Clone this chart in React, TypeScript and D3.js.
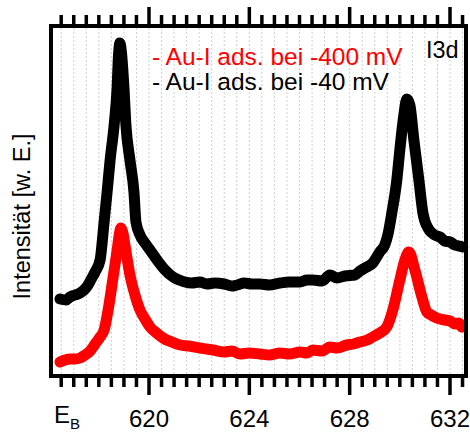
import React from "react";
import * as d3 from "d3";

// Binding energy (eV) and intensity (arb. units)
const blackEnergy = [616.45, 616.7, 616.85, 617.05, 617.25, 617.45, 617.57, 617.7, 617.85, 618.05, 618.21, 618.33, 618.45, 618.61, 618.73, 618.78, 618.84, 618.9, 619.0, 619.08, 619.24, 619.4, 619.48, 619.64, 619.84, 620.04, 620.32, 620.64, 620.96, 621.2, 621.43, 621.7, 622.03, 622.3, 622.63, 623.0, 623.3, 623.51, 623.8, 624.1, 624.42, 624.8, 625.22, 625.6, 626.02, 626.3, 626.53, 626.9, 627.21, 627.5, 627.81, 628.21, 628.41, 628.61, 628.92, 629.2, 629.4, 629.52, 629.68, 629.88, 630.0, 630.16, 630.28, 630.4, 630.56, 630.76, 630.92, 631.12, 631.39, 631.6, 631.79, 632.0, 632.19, 632.35, 632.51];
const blackIntensity = [78, 77, 80, 82, 84, 88, 92, 98, 105, 117, 155, 185, 217, 252, 290, 320, 334, 325, 290, 252, 217, 185, 155, 142, 134, 127, 117, 107, 100, 97, 95, 94, 95, 93, 94, 93, 91, 92, 94, 93, 93, 92, 94, 95, 95, 97, 97, 96, 102, 99, 101, 102, 106, 109, 114, 125, 132, 142, 164, 197, 227, 262, 278, 272, 237, 197, 164, 149, 142, 140, 136, 135, 132, 131, 130];

const redEnergy = [616.45, 616.65, 616.85, 617.05, 617.25, 617.45, 617.65, 617.85, 618.05, 618.21, 618.37, 618.57, 618.73, 618.82, 618.88, 618.95, 619.04, 619.24, 619.44, 619.64, 619.84, 620.04, 620.3, 620.56, 620.9, 621.24, 621.6, 622.03, 622.3, 622.55, 623.0, 623.3, 623.63, 624.0, 624.42, 624.8, 625.22, 625.6, 626.02, 626.3, 626.53, 626.9, 627.21, 627.5, 627.89, 628.15, 628.41, 628.7, 628.92, 629.2, 629.48, 629.72, 630.0, 630.2, 630.36, 630.6, 630.88, 631.08, 631.25, 631.39, 631.6, 631.79, 632.0, 632.19, 632.35, 632.47];
const redIntensity = [15, 17, 18, 18, 19, 22, 26, 33, 40, 47, 67, 100, 127, 143, 149, 145, 132, 102, 82, 67, 58, 50, 44, 39, 35, 32, 31, 29, 28, 27, 25, 26, 23, 24, 23, 22, 24, 23, 25, 24, 27, 26, 30, 29, 32, 33, 35, 37, 40, 44, 50, 67, 97, 117, 125, 107, 80, 65, 62, 60, 58, 57, 56, 53, 54, 50];

const majorTicks = [620, 624, 628, 632];
const minorTicks = d3.range(616.5, 632.51, 0.5);
const legendLabels = ["- Au-I ads. bei -400 mV", "- Au-I ads. bei -40 mV"];
const legendColors = ["#ff0000", "#000000"];
const panelLabel = "I3d";
const yLabel = "Intensität [w. E.]";

export default function App() {
  const W = 470, H = 432;
  const left = 51, right = 466, top = 26, bottom = 376;
  const x = d3.scaleLinear().domain([620, 632]).range([149, 450]);
  const y = d3.scaleLinear().domain([0, 350]).range([377, 27]);
  const font = "Arial, 'Liberation Sans', sans-serif";

  const makePath = (en: number[], it: number[]) =>
    d3
      .line<[number, number]>()
      .x((d) => x(d[0]))
      .y((d) => y(d[1]))
      .curve(d3.curveMonotoneX)(en.map((e, i) => [e, it[i]] as [number, number])) || "";

  return (
    <svg width={W} height={H} style={{ position: "absolute", left: 0, top: 0 }} xmlns="http://www.w3.org/2000/svg">
      <rect x={0} y={0} width={W} height={H} fill="#fff" />
      {/* grid */}
      {minorTicks.map((t) => (
        <line key={"g" + t} x1={x(t)} x2={x(t)} y1={top + 2} y2={bottom - 2} stroke="#cfcfcf" strokeWidth={1} strokeDasharray="2,2" />
      ))}
      {/* data */}
      <path d={makePath(redEnergy, redIntensity)} fill="none" stroke="#ff0000" strokeWidth={11} strokeLinejoin="round" strokeLinecap="round" />
      <path d={makePath(blackEnergy, blackIntensity)} fill="none" stroke="#000" strokeWidth={11} strokeLinejoin="round" strokeLinecap="round" />
      {/* frame */}
      <rect x={left} y={top} width={right - left} height={bottom - top} fill="none" stroke="#000" strokeWidth={4} />
      {/* ticks */}
      {minorTicks.map((t) => {
        const major = majorTicks.includes(t);
        return (
          <g key={"t" + t}>
            <line x1={x(t)} x2={x(t)} y1={bottom + 2} y2={major ? 395 : 387} stroke="#000" strokeWidth={3.5} />
            <line x1={x(t)} x2={x(t)} y1={top - 2} y2={major ? 7 : 15} stroke="#000" strokeWidth={3.5} />
          </g>
        );
      })}
      {majorTicks.map((t) => (
        <text key={"l" + t} x={x(t)} y={427} textAnchor="middle" fontFamily={font} fontSize={24} fill="#000">
          {t}
        </text>
      ))}
      <text x={54} y={423} fontFamily={font} fontSize={24} fill="#000">
        E<tspan fontSize={15} dy={6}>B</tspan>
      </text>
      <text transform="translate(30,216.5) rotate(-90)" textAnchor="middle" fontFamily={font} fontSize={23.5} fill="#000">
        {yLabel}
      </text>
      {legendLabels.map((l, i) => (
        <text key={l} x={152} y={65 + i * 25} fontFamily={font} fontSize={24.5} fill={legendColors[i]}>
          {l}
        </text>
      ))}
      <text x={426} y={58} fontFamily={font} fontSize={23.5} fill="#000">
        {panelLabel}
      </text>
    </svg>
  );
}
